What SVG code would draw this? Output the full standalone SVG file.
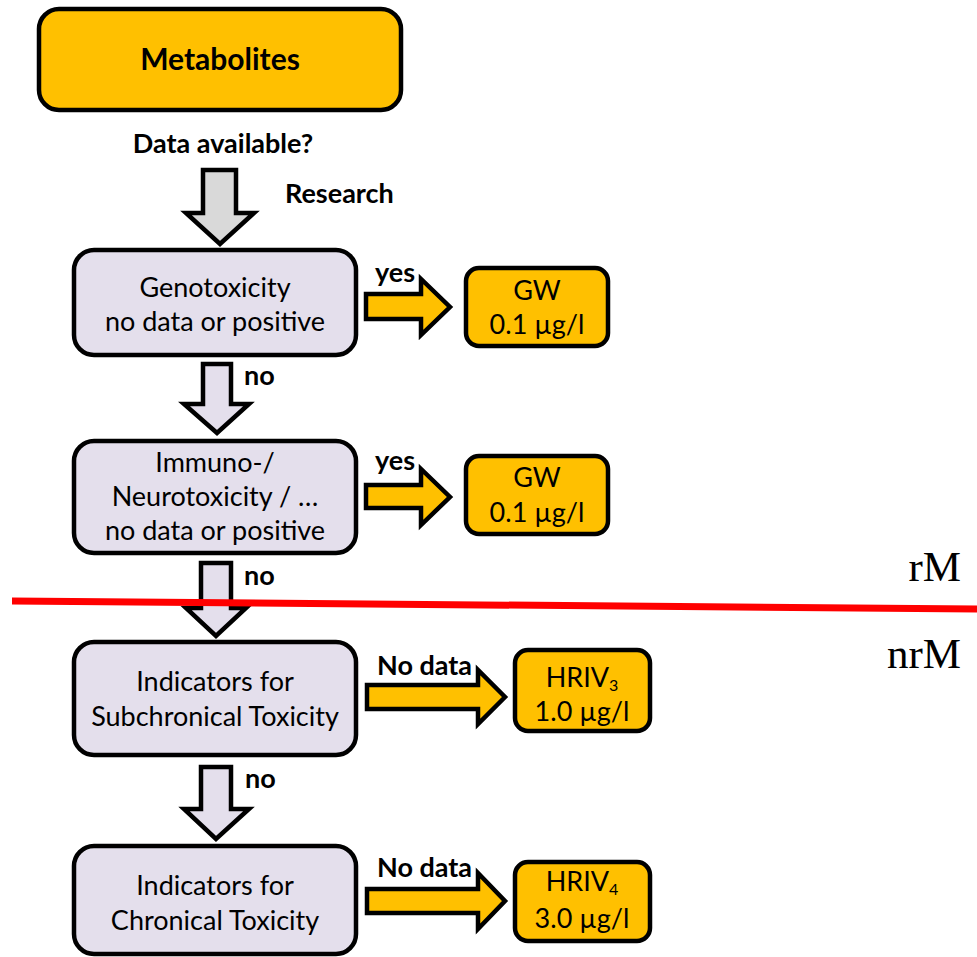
<svg xmlns="http://www.w3.org/2000/svg" width="977" height="957" viewBox="0 0 977 957">
<style>
.box{stroke:#000;stroke-width:4.5}
.y{fill:#FFC000}
.l{fill:#E4DFEC}
.g{fill:#D9D9D9}
.arr{stroke:#000;stroke-width:4.5;stroke-linejoin:miter}
.t{font-family:Lato,"Open Sans",sans-serif;font-size:27px;fill:#000;text-anchor:middle}
.b{font-family:Lato,"Open Sans",sans-serif;font-weight:bold;font-size:27px;fill:#000}
.big{font-size:30px}
.sub{font-size:16px}
.s{font-family:"Liberation Serif",serif;font-size:43px;fill:#000;text-anchor:end}
</style>
<rect width="977" height="957" fill="#fff"/>
<g id="metabolites">
<rect class="box y" x="39" y="9" width="362" height="101" rx="20"/>
<text class="b big" x="220" y="70" text-anchor="middle">Metabolites</text>
</g>
<g id="genotoxicity">
<rect class="box l" x="74" y="250" width="282" height="105" rx="20"/>
<text class="t" x="215" y="297">Genotoxicity</text>
<text class="t" x="215" y="331">no data or positive</text>
</g>
<g id="gw1">
<rect class="box y" x="466" y="268" width="142" height="78" rx="13"/>
<text class="t" x="537" y="300">GW</text>
<text class="t" x="537" y="334">0.1 µg/l</text>
</g>
<g id="immuno">
<rect class="box l" x="74" y="441" width="282" height="112" rx="20"/>
<text class="t" x="215" y="472">Immuno-/</text>
<text class="t" x="215" y="506">Neurotoxicity / …</text>
<text class="t" x="215" y="540">no data or positive</text>
</g>
<g id="gw2">
<rect class="box y" x="466" y="456" width="142" height="78" rx="13"/>
<text class="t" x="537" y="487">GW</text>
<text class="t" x="537" y="522">0.1 µg/l</text>
</g>
<g id="subchronical">
<rect class="box l" x="74" y="642" width="282" height="113" rx="20"/>
<text class="t" x="215" y="691">Indicators for</text>
<text class="t" x="215" y="726">Subchronical Toxicity</text>
</g>
<g id="hriv3">
<rect class="box y" x="515" y="650" width="135" height="81" rx="13"/>
<text class="t" x="582" y="687">HRIV<tspan class="sub" dy="4">3</tspan></text>
<text class="t" x="582" y="721">1.0 µg/l</text>
</g>
<g id="chronical">
<rect class="box l" x="74" y="846" width="282" height="108" rx="20"/>
<text class="t" x="215" y="895">Indicators for</text>
<text class="t" x="215" y="930">Chronical Toxicity</text>
</g>
<g id="hriv4">
<rect class="box y" x="515" y="862" width="135" height="79" rx="13"/>
<text class="t" x="582" y="891">HRIV<tspan class="sub" dy="4">4</tspan></text>
<text class="t" x="582" y="928">3.0 µg/l</text>
</g>
<g id="connectors">
<polygon class="arr g" points="203,170 236,170 236,213 254,213 220,244 186,213 203,213"/>
<polygon class="arr y" points="366,294 421,294 421,279 450,307 421,335 421,319 366,319"/>
<polygon class="arr l" points="203,364 231,364 231,404 249,404 217,433 184,404 203,404"/>
<polygon class="arr y" points="366,485 421,485 421,469 450,497 421,525 421,508 366,508"/>
<polygon class="arr l" points="201,563 231,563 231,608 246,608 216,636 186,608 201,608"/>
<polygon class="arr y" points="367,685 478,685 478,670 505,697 478,724 478,709 367,709"/>
<polygon class="arr l" points="201,767 231,767 231,809 249,809 216,839 184,809 201,809"/>
<polygon class="arr y" points="367,889 478,889 478,873 505,901 478,929 478,913 367,913"/>
<text class="b" x="223" y="153" text-anchor="middle">Data available?</text>
<text class="b" x="285" y="203">Research</text>
<text class="b" x="375" y="282">yes</text>
<text class="b" x="375" y="470">yes</text>
<text class="b" x="244" y="385">no</text>
<text class="b" x="244" y="585">no</text>
<text class="b" x="245" y="788">no</text>
<text class="b" x="377" y="675">No data</text>
<text class="b" x="377" y="877">No data</text>
</g>
<line x1="12" y1="601" x2="977" y2="609" stroke="#FF0000" stroke-width="7"/>
<text class="s" x="961" y="581">rM</text>
<text class="s" x="961" y="668">nrM</text>
</svg>
